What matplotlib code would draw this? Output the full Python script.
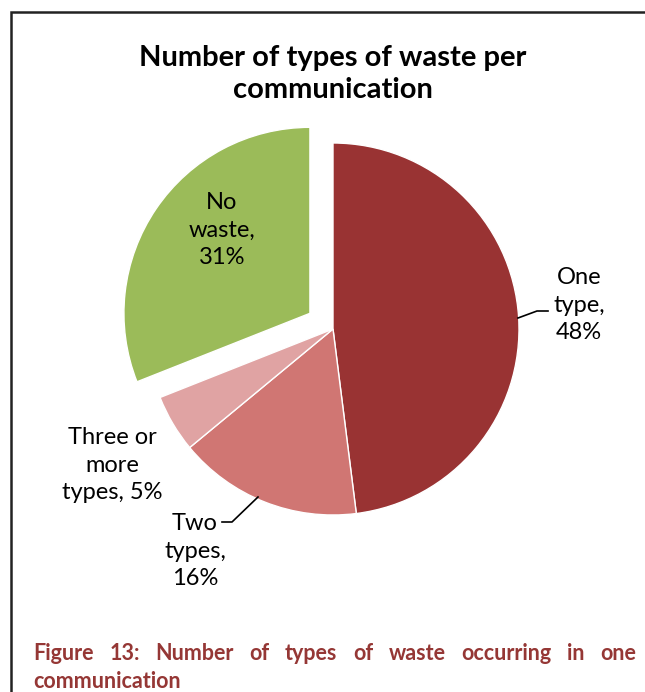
import matplotlib
matplotlib.use('Agg')
import matplotlib.pyplot as plt

# data
categories = ['One type', 'Two types', 'Three or more types', 'No waste']
shares = [48, 16, 5, 31]
colors = ['#993333', '#D07673', '#E0A3A3', '#9BBB59']
explode = [0, 0, 0, 0.15]  # fraction of radius

title = 'Number of types of waste per\ncommunication'
caption_words = 'Figure 13: Number of types of waste occurring in one'.split()
caption_line2 = 'communication'

W, H = 645, 692
plt.rcParams['font.family'] = ['Lato', 'DejaVu Sans']

fig = plt.figure(figsize=(W / 100, H / 100), dpi=100)
ax = fig.add_axes([0, 0, 1, 1])

cx, cy, r = 333, H - 329, 186
# matplotlib's explode is in data units, so scale by the radius
wedges, _ = ax.pie(shares, colors=colors, explode=[e * r for e in explode],
                   startangle=90, counterclock=False, center=(cx, cy), radius=r,
                   wedgeprops=dict(edgecolor='white', linewidth=1))
ax.set_xlim(0, W)
ax.set_ylim(0, H)
ax.set_aspect('equal')
ax.axis('off')

fs = 17
ls = 1.4
ax.text(579, H - 305, 'One\ntype,\n48%', ha='center', va='center', fontsize=fs, linespacing=ls)
ax.plot([518, 537, 548], [H - 318, H - 311, H - 311], color='black', lw=1.2)
ax.text(195, H - 551, 'Two\ntypes,\n16%', ha='center', va='center', fontsize=fs, linespacing=ls)
ax.plot([222, 232, 258], [H - 522, H - 522, H - 497], color='black', lw=1.2)
ax.text(112, H - 465, 'Three or\nmore\ntypes, 5%', ha='center', va='center', fontsize=fs, linespacing=ls)
ax.text(222, H - 230, 'No\nwaste,\n31%', ha='center', va='center', fontsize=fs, linespacing=ls)

ax.text(333, H - 74, title, ha='center', va='center', fontsize=21,
        fontweight='bold', linespacing=1.25)

# border
ax.plot([11, 11, W], [0, H - 11.5, H - 11.5], color='#222222', lw=1.8,
        clip_on=False, solid_joinstyle='miter')

# justified caption
cap_color = '#953735'
cap_fs = 15.5
x0, x1 = 33, 636
y1, y2 = H - 660, H - 688
fig.canvas.draw()
renderer = fig.canvas.get_renderer()
texts = [ax.text(0, y1, w, fontsize=cap_fs, fontweight='bold', color=cap_color,
                 ha='left', va='baseline') for w in caption_words]
widths = [t.get_window_extent(renderer).width for t in texts]
gap = (x1 - x0 - sum(widths)) / (len(texts) - 1)
x = x0
for t, w in zip(texts, widths):
    t.set_x(x)
    x += w + gap
ax.text(x0, y2, caption_line2, fontsize=cap_fs, fontweight='bold', color=cap_color,
        ha='left', va='baseline')

fig.savefig('out.png', dpi=100)
